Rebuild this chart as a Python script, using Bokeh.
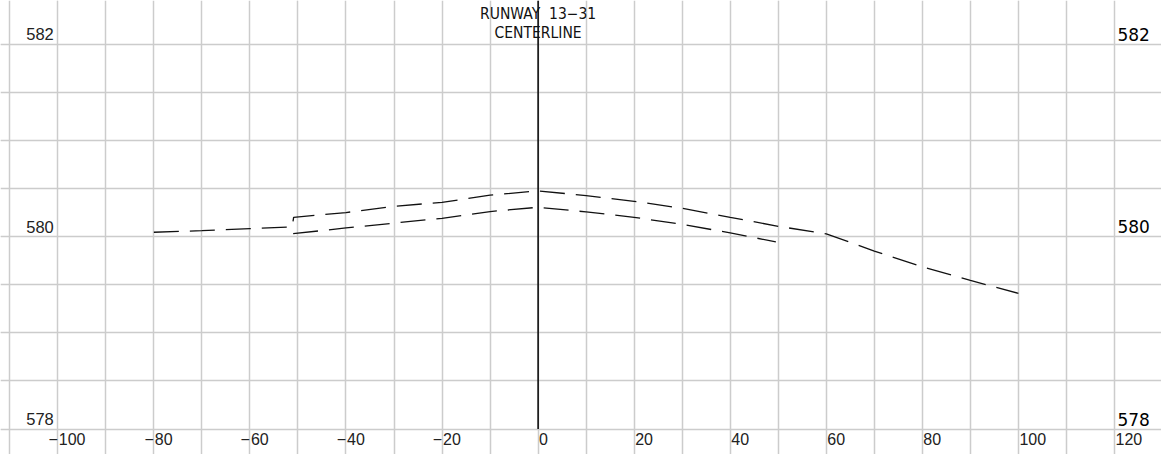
from bokeh.plotting import figure
from bokeh.models import Grid, FixedTicker, Range1d
from bokeh.core.properties import value
from bokeh.embed import file_html
from bokeh.resources import INLINE

# ---- data ----
x_ticks = [-100, -80, -60, -40, -20, 0, 20, 40, 60, 80, 100, 120]
x_grid = list(range(-110, 131, 10))
y_grid = [577.5 + 0.5 * i for i in range(11)]
y_ticks = [578, 580, 582]

upper_x = [-80, -70, -60, -51.2, -50.9, -40, -30, -20, -10, 0, 10, 20, 30, 40, 50, 60, 70, 80, 90, 100]
upper_y = [580.045, 580.062, 580.083, 580.10, 580.20, 580.25, 580.315, 580.356, 580.43, 580.475,
           580.426, 580.367, 580.294, 580.20, 580.107, 580.028, 579.85, 579.685, 579.545, 579.41]

lower_x = [-51, -40, -30, -20, -10, 0, 10, 20, 30, 40, 49.5]
lower_y = [580.03, 580.09, 580.14, 580.19, 580.26, 580.305, 580.257, 580.20, 580.128, 580.038, 579.945]

title_lines = ["RUNWAY\u00a0 13\u221231", "CENTERLINE"]
centerline_x = 0

x_min, x_max = -111.93, 129.79
y_min, y_max = 577.735, 582.454

SHIFT = -7  # compensate baseline placement

p = figure(width=1161, height=454, output_backend="svg", toolbar_location=None,
           x_range=Range1d(x_min, x_max), y_range=Range1d(y_min, y_max),
           x_axis_location=None, y_axis_location=None, min_border=0,
           background_fill_color="white", border_fill_color="white")
p.outline_line_color = None

p.add_layout(Grid(dimension=0, ticker=FixedTicker(ticks=x_grid),
                  grid_line_color="#cccccc", grid_line_width=1.5))
p.add_layout(Grid(dimension=1, ticker=FixedTicker(ticks=y_grid),
                  grid_line_color="#cccccc", grid_line_width=1.5))

# centerline
p.segment(x0=[centerline_x], y0=[min(y_ticks)], x1=[centerline_x], y1=[y_max],
          line_color="black", line_width=1.5)

# profile lines
p.line(upper_x, upper_y, line_color="#111111", line_width=1.3, line_dash="25 11")
p.line(lower_x, lower_y, line_color="#111111", line_width=1.3, line_dash="25 11")

# title
p.text(x=[centerline_x, centerline_x], y=[y_max, y_max], text=title_lines,
       text_align="center", text_baseline="alphabetic",
       y_offset=[20 + SHIFT, 39.5 + SHIFT],
       text_font=value("DejaVu Sans Condensed, Liberation Sans"), text_font_size="15.5px",
       text_color="#111111")

# left y labels
p.text(x=[x_ticks[0]] * len(y_ticks), y=y_ticks, text=[str(v) for v in y_ticks],
       text_align="right", text_baseline="alphabetic", x_offset=-4, y_offset=-3 + SHIFT,
       text_font=value("Liberation Sans"), text_font_size="16.5px", text_color="#222222")

# right y labels
p.text(x=[x_ticks[-1]] * len(y_ticks), y=y_ticks, text=[str(v) for v in y_ticks],
       text_align="left", text_baseline="alphabetic", x_offset=3, y_offset=-3 + SHIFT,
       text_font=value("DejaVu Sans"), text_font_size="17px", text_color="black")

# bottom x labels: digits start at tick, minus sign sits before it
digits = [str(abs(t)) for t in x_ticks]
minus = ["\u2212" if t < 0 else "" for t in x_ticks]
p.text(x=x_ticks, y=[min(y_ticks)] * len(x_ticks), text=digits,
       text_align="left", text_baseline="alphabetic", x_offset=1, y_offset=16.5 + SHIFT,
       text_font=value("Liberation Sans"), text_font_size="16px", text_color="#222222")
p.text(x=x_ticks, y=[min(y_ticks)] * len(x_ticks), text=minus,
       text_align="right", text_baseline="alphabetic", x_offset=0, y_offset=16.5 + SHIFT,
       text_font=value("Liberation Sans"), text_font_size="16px", text_color="#222222")

open("out.html", "w").write(file_html(p, INLINE))
